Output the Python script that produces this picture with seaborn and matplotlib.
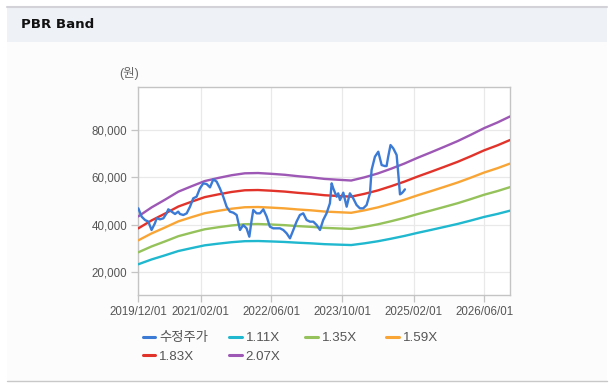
import matplotlib
matplotlib.use("Agg")
import matplotlib.pyplot as plt
import matplotlib.dates as mdates
from matplotlib.patches import Rectangle
from matplotlib.lines import Line2D
import matplotlib.ticker as mticker
import pandas as pd
import seaborn as sns

# ---------------- data ----------------
band_dates = ["2019-12-01", "2020-03-01", "2020-06-01", "2020-09-01", "2020-12-01",
              "2021-03-01", "2021-06-01", "2021-09-01", "2021-12-01", "2022-03-01",
              "2022-06-01", "2022-09-01", "2022-12-01", "2023-03-01", "2023-06-01",
              "2023-09-01", "2023-12-01", "2024-03-01", "2024-06-01", "2024-09-01",
              "2024-12-01", "2025-03-01", "2025-06-01", "2025-09-01", "2025-12-01",
              "2026-03-01", "2026-06-01", "2026-09-01", "2026-11-25"]

band_111 = [23370, 25400, 27140, 28960, 30190, 31360, 32060, 32680, 33110, 33180,
            33000, 32780, 32460, 32200, 31850, 31660, 31480, 32200, 33080, 34170,
            35330, 36630, 37860, 39130, 40400, 41820, 43350, 44630, 45980]
band_135 = [28420, 30890, 33010, 35220, 36720, 38140, 38990, 39740, 40270, 40350,
            40140, 39870, 39470, 39160, 38730, 38500, 38290, 39160, 40230, 41550,
            42970, 44550, 46050, 47590, 49140, 50870, 52720, 54280, 55920]
band_159 = [33470, 36380, 38880, 41480, 43250, 44920, 45920, 46810, 47430, 47530,
            47270, 46950, 46490, 46130, 45620, 45350, 45090, 46130, 47380, 48940,
            50610, 52470, 54230, 56050, 57880, 59910, 62090, 63930, 65860]
band_183 = [38520, 41870, 44740, 47740, 49780, 51700, 52850, 53880, 54590, 54700,
            54410, 54040, 53510, 53090, 52500, 52190, 51900, 53090, 54530, 56330,
            58250, 60390, 62420, 64510, 66610, 68950, 71460, 73580, 75800]
band_207 = [43570, 47360, 50610, 54010, 56300, 58480, 59780, 60940, 61750, 61870,
            61540, 61130, 60530, 60050, 59390, 59040, 58710, 60050, 61690, 63710,
            65890, 68310, 70610, 72970, 75350, 78000, 80830, 83230, 85740]

price_dates = ["2019-12-01", "2019-12-24", "2020-01-16", "2020-02-08", "2020-03-01",
               "2020-03-24", "2020-04-05", "2020-04-28", "2020-05-21", "2020-06-12",
               "2020-06-24", "2020-07-17", "2020-08-09", "2020-08-31", "2020-09-12",
               "2020-10-05", "2020-10-28", "2020-11-20", "2020-12-12", "2021-01-04",
               "2021-01-27", "2021-02-19", "2021-03-14", "2021-04-06", "2021-04-29",
               "2021-05-22", "2021-06-13", "2021-07-06", "2021-07-29", "2021-08-21",
               "2021-09-13", "2021-10-06", "2021-10-29", "2021-11-20", "2021-12-13",
               "2022-01-01", "2022-01-17", "2022-01-28", "2022-02-20", "2022-03-15",
               "2022-04-07", "2022-04-30", "2022-05-22", "2022-06-14", "2022-07-30",
               "2022-08-22", "2022-09-14", "2022-10-07", "2022-10-30", "2022-11-21",
               "2022-12-14", "2023-01-06", "2023-01-29", "2023-02-21", "2023-03-16",
               "2023-04-08", "2023-05-01", "2023-05-23", "2023-06-15", "2023-07-08",
               "2023-07-20", "2023-07-31", "2023-08-23", "2023-09-03", "2023-09-15",
               "2023-10-08", "2023-10-31", "2023-11-22", "2023-12-15", "2024-01-07",
               "2024-01-30", "2024-02-22", "2024-03-16", "2024-04-08", "2024-04-19",
               "2024-05-12", "2024-06-04", "2024-06-27", "2024-07-19", "2024-07-31",
               "2024-08-11", "2024-08-27", "2024-09-15", "2024-10-08", "2024-10-19",
               "2024-10-31", "2024-11-11", "2024-11-22", "2024-12-04"]
price_values = [46970, 43460, 42050, 41350, 37840, 40650, 42750, 42330, 42750, 44860,
                46550, 45570, 44580, 45570, 44580, 44160, 44860, 47670, 51190, 51890,
                55400, 57510, 57230, 55830, 59200, 58210, 55400, 51890, 47670, 45570,
                45140, 44160, 37840, 39940, 38540, 35020, 42050, 46270, 44860, 44860,
                46550, 43460, 39240, 38540, 38540, 37840, 36430, 34320, 37840, 41350,
                44160, 44860, 42050, 41350, 41350, 39940, 37840, 42050, 44860, 49080,
                57510, 55400, 51890, 53300, 50480, 53580, 47670, 53300, 51190, 48380,
                46970, 46970, 48380, 53300, 63130, 68760, 70860, 65240, 64820, 64820,
                68760, 73680, 72270, 69460, 61730, 52870, 53300, 54000, 54980]

series_labels = ["수정주가", "1.11X", "1.35X", "1.59X", "1.83X", "2.07X"]
series_colors = ["#3b7bd6", "#1fb8cf", "#95c25a", "#f8a535", "#e2332b", "#9d58b5"]
x_tick_dates = ["2019-12-01", "2021-02-01", "2022-06-01", "2023-10-01", "2025-02-01", "2026-06-01"]
y_ticks = [20000, 40000, 60000, 80000]

# ---------------- style ----------------
sns.set_theme(style="white")
plt.rcParams["font.family"] = ["Liberation Sans", "Noto Sans CJK KR", "DejaVu Sans"]

W, H = 614, 387
fig = plt.figure(figsize=(W / 100, H / 100), dpi=100)
fig.patch.set_facecolor("white")

def fx(px):
    return px / W

def fy(py):
    return 1 - py / H

# panel background / header
fig.add_artist(Rectangle((fx(7), fy(381)), fx(607) - fx(7), fy(42) - fy(381),
                         transform=fig.transFigure, facecolor="#fcfcfc", edgecolor="none", zorder=0))
fig.add_artist(Rectangle((fx(7), fy(42)), fx(607) - fx(7), fy(7) - fy(42),
                         transform=fig.transFigure, facecolor="#eef2f7", edgecolor="none", zorder=0))
fig.add_artist(Line2D([fx(7), fx(607)], [fy(6.5), fy(6.5)], transform=fig.transFigure,
                      color="#d2d2d8", lw=1.5, zorder=1))
fig.add_artist(Line2D([fx(7), fx(607)], [fy(381), fy(381)], transform=fig.transFigure,
                      color="#c8c8c8", lw=1.0, zorder=1))
fig.text(fx(21), fy(25), "PBR Band", fontsize=9.6, fontweight="bold", color="#111111",
         family=["DejaVu Sans"], va="center", ha="left")

# axes
ax = fig.add_axes([fx(138.3), fy(295), fx(510) - fx(138.3), fy(86.7) - fy(295)])
ax.set_facecolor("white")

bd = pd.to_datetime(band_dates)
pdts = pd.to_datetime(price_dates)
bands = [band_111, band_135, band_159, band_183, band_207]

sns.lineplot(x=pdts, y=price_values, ax=ax, color=series_colors[0], lw=1.7, legend=False, zorder=6)
for vals, col in zip(bands, series_colors[1:]):
    sns.lineplot(x=bd, y=vals, ax=ax, color=col, lw=1.7, legend=False, zorder=5)

ax.set_xlim(pd.Timestamp("2019-12-01"), pd.Timestamp("2026-11-25"))
ax.set_ylim(10400, 98300)
ax.set_xticks(pd.to_datetime(x_tick_dates))
ax.xaxis.set_major_formatter(mdates.DateFormatter("%Y/%m/%d"))
ax.set_yticks(y_ticks)
ax.yaxis.set_major_formatter(mticker.FuncFormatter(lambda v, p: f"{int(v):,}"))
ax.set_xlabel("")
ax.set_ylabel("")

ax.grid(True, color="#e9e9e9", lw=0.9)
ax.set_axisbelow(True)
for s in ax.spines.values():
    s.set_color("#c4c4c4")
    s.set_linewidth(1.0)
ax.tick_params(axis="both", which="major", length=5, width=0.9, color="#c4c4c4",
               labelsize=8.3, labelcolor="#555555", pad=3, bottom=True, left=True)

fig.text(fx(119), fy(74), "(원)", fontsize=9, color="#666666", va="center", ha="left")

# legend (one entry each, placed like the reference)
lines = ax.get_lines()
positions = [(142.7, 338.3), (229, 338.3), (305, 338.3), (386, 338.3), (142.7, 356.7), (229, 356.7)]
for ln, lab, (px, py) in zip(lines, series_labels, positions):
    h = Line2D([], [], color=ln.get_color(), lw=2.2)
    fig.legend(handles=[h], labels=[lab], loc="center left", bbox_to_anchor=(fx(px), fy(py)),
               frameon=False, borderpad=0, borderaxespad=0, handlelength=0.95,
               handletextpad=0.3, fontsize=9.6, labelcolor="#555555")

fig.savefig("out.png", dpi=100)
